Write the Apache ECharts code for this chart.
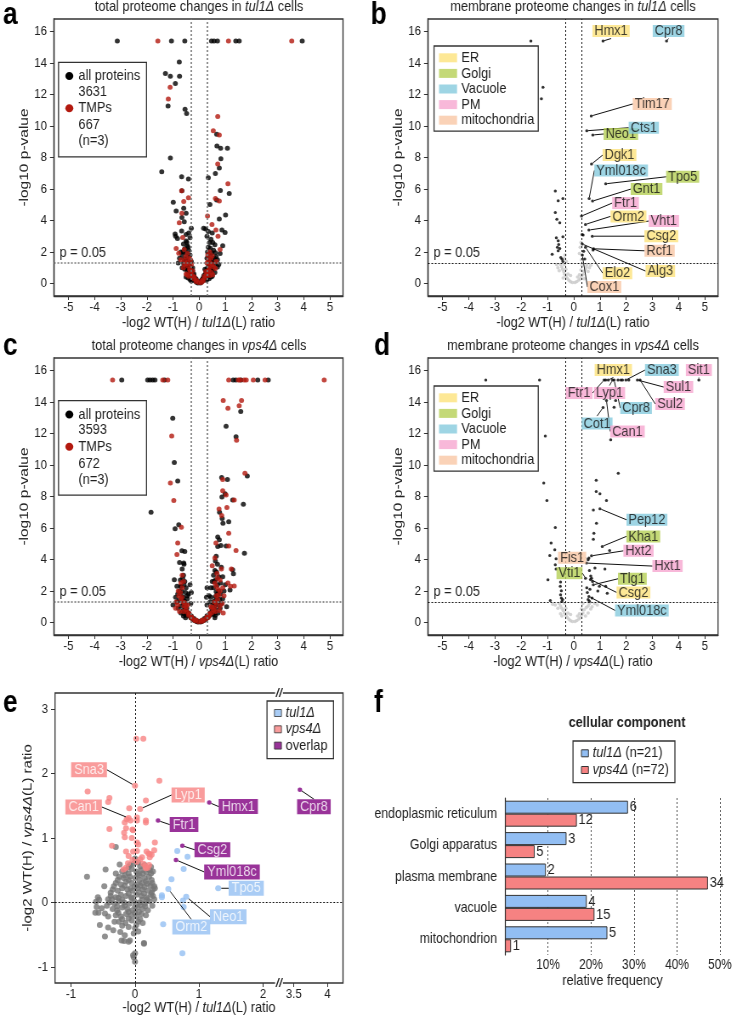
<!DOCTYPE html>
<html>
<head>
<meta charset="utf-8">
<title>tul1 / vps4 proteome changes</title>
<script src="https://cdn.jsdelivr.net/npm/echarts@6/dist/echarts.min.js"></script>
<style>
  html, body { margin: 0; padding: 0; background: #fff; overflow: hidden; }
  /* the figure is drawn wider and squeezed horizontally, like the narrow-looking original */
  #chart { width: 862px; height: 1016px; transform: scaleX(0.85); transform-origin: 0 0; }
</style>
</head>
<body>
<div id="chart"></div>
<script>
// ---- tick labels / categories ----
const volcXTicks = [-5, -4, -3, -2, -1, 0, 1, 2, 3, 4, 5];
const volcYTicks = [0, 2, 4, 6, 8, 10, 12, 14, 16];
const eXTicksLeft = [-1, 0, 1, 2];
const eXTicksRight = [3.5, 4];
const eYTicks = [-1, 0, 1, 2, 3];
const compartments = ['ER', 'Golgi', 'Vacuole', 'PM', 'mitochondria'];
const fCategories = ['endoplasmic reticulum', 'Golgi apparatus', 'plasma membrane', 'vacuole', 'mitochondrion'];

// ---- a: total proteome, tul1 ----
const tul1TotalAll = [
  [-3.13,15.4],[-1.06,15.4],[-0.55,15.4],[0.47,15.4],[0.57,15.4],[0.7,15.4],[1.4,15.4],[1.53,15.4],[3.94,15.4],
  [-0.76,14.07],[-1.29,13.33],[-1.1,13.16],[-0.75,13.16],[-0.91,12.7],[-1.19,11.27],[-0.54,11.06],[-0.48,10.8],
  [-1.1,7.97],[-1.43,7.1],[-0.67,6.78],[-0.41,6.63],[-0.66,5.89],[-0.99,5.15],[-0.59,4.77],[-0.88,4.6],[-0.5,4.45],
  [-0.66,4.19],[-0.57,3.92],[-0.92,3.14],[-0.67,3.33],[-0.83,2.86],
  [0.35,6.72],[0.67,9.47],[0.68,8.73],[0.82,8.58],[1.08,8.58],[0.83,7.92],[0.77,7.33],[0.62,6.99],[1.15,5.72],
  [0.81,5.91],[0.67,5.3],[0.41,5.02],[1.01,4.34],[0.77,4.09],[0.87,3.39],[0.99,3.24],[0.17,3.5],
  [-0.05,0.02],[0.05,0.03],[-0.1,0.08],[0.1,0.1],[-0.15,0.15],[0.15,0.2],[-0.2,0.25],[0.2,0.3],[-0.22,0.4],[0.25,0.45],
  [-0.28,0.55],[0.28,0.6],[-0.3,0.7],[0.3,0.75],[-0.33,0.85],[0.35,0.9],[-0.38,1.0],[0.38,1.05],[-0.4,1.15],[0.42,1.2],
  [-0.45,1.3],[0.45,1.35],[-0.5,1.5],[0.5,1.5],[-0.35,0.5],[0.4,0.55],[-0.45,0.75],[0.48,0.8],[-0.55,1.1],[0.55,1.0],
  [-0.6,1.3],[0.6,1.25],[-0.25,1.0],[0.22,0.9],[-0.3,1.4],[0.3,1.6],[-0.35,1.8],[0.32,2.0],[-0.4,2.1],[0.35,2.3],
  [-0.45,2.4],[0.4,2.6],[-0.5,2.7],[0.45,2.8],[-0.55,2.2],[0.55,2.1],[-0.65,1.8],[0.65,1.7],[-0.7,2.0],[0.7,1.5],
  [-0.75,1.6],[0.8,1.9],[-0.6,2.5],[0.6,2.45],[-0.35,2.9],[0.3,3.0],[-0.4,3.2],[0.35,3.3],[-0.3,3.5],[0.25,3.45],
  [-0.5,3.1],[0.5,3.2],[-0.2,0.6],[0.18,0.5],[-0.12,0.3],[0.12,0.25],[-0.65,1.0],[0.7,1.05],[-0.8,1.3],[0.75,1.2],
  [-0.9,3.0],[0.9,2.4],[-0.55,0.9],[0.6,0.7],[-0.42,0.35],[0.45,0.4],[0.38,0.3],[-0.35,0.25],
  [-0.08,0.15],[0.08,0.18],[-0.18,0.35],[0.16,0.38],[-0.26,0.65],[0.24,0.62],[-0.32,0.95],[0.3,0.95],[-0.36,1.1],
  [0.36,1.15],[-0.42,1.4],[0.4,1.45],[-0.46,1.7],[0.44,1.75],[-0.5,1.95],[0.48,1.95],[-0.28,0.3],[0.3,0.35],
  [-0.36,0.45],[0.35,0.5],[-0.4,0.65],[0.44,0.65],[-0.48,0.95],[0.5,0.9],[-0.52,1.2],[0.52,1.3],[-0.58,1.55],
  [0.58,1.6],[-0.62,2.0],[0.62,1.95],[-0.2,0.45],[0.2,0.4],[-0.15,0.25],[0.14,0.28],[-0.25,0.8],[0.27,0.8],
  [-0.38,1.3],[0.37,1.35],[-0.43,2.3],[0.42,2.25],[-0.47,2.6],[0.52,2.6],[-0.3,0.15],[0.28,0.2],[-0.5,0.4],[0.5,0.45]
];
const tul1TotalTmp = [
  [-1.58,15.4],[1.12,15.4],[3.54,15.4],
  [-1.11,12.46],[-1.18,11.72],[-0.67,5.89],[-0.41,5.44],[-0.59,5.21],[-0.66,4.45],[-0.76,3.86],[-0.63,2.92],
  [-0.88,2.22],[-0.57,2.16],[-0.78,1.91],
  [0.71,10.6],[0.54,9.7],[0.77,9.43],[0.71,7.58],[1.1,6.33],[0.62,5.4],[0.77,5.23],[0.32,4.28],[0.49,3.75],
  [0.64,3.39],[0.72,3.0],[0.8,2.16],
  [-0.02,0.05],[0.08,0.06],[-0.12,0.12],[0.15,0.15],[-0.2,0.3],[0.22,0.35],[-0.28,0.45],[0.3,0.5],[-0.32,0.65],
  [0.33,0.7],[-0.36,0.9],[0.38,0.95],[-0.42,1.1],[0.4,1.1],[-0.5,1.25],[0.5,1.2],[-0.55,1.45],[0.45,1.6],[-0.6,1.0],
  [0.62,0.95],[-0.38,1.6],[0.33,1.8],[-0.45,1.9],[0.4,2.0],[-0.7,1.5],[0.65,1.4],[-0.25,0.8],[0.25,0.75],[-0.5,0.6],
  [0.52,0.55],[-0.4,0.45],[0.42,0.5],[-0.3,1.2],[0.3,1.3],
  [-0.1,0.2],[0.12,0.22],[-0.25,0.5],[0.28,0.55],[-0.35,0.8],[0.36,0.8],[-0.44,1.35],[0.43,1.3],[-0.52,1.7],
  [0.5,1.75],[-0.18,0.4],[0.2,0.45],[-0.46,0.55],[0.47,0.7],[-0.56,1.2],[0.56,1.05],[-0.33,1.5],[0.35,1.5]
];

// ---- c: total proteome, vps4 ----
const vps4TotalAll = [
  [-2.96,15.4],[-1.97,15.4],[-1.88,15.4],[-1.78,15.4],[-1.69,15.4],[-1.32,15.4],
  [1.3,15.4],[1.4,15.4],[1.6,15.4],[2.24,15.4],[2.64,15.4],
  [-1.01,12.97],[-0.95,10.16],[-0.82,8.98],[-1.84,7.0],[-0.78,6.2],[-0.92,5.95],[-0.66,4.55],[-0.59,3.77],[-0.95,2.71],
  [1.59,13.4],[1.03,12.47],[1.41,11.8],[1.84,9.3],[0.86,9.2],[1.08,9.08],[0.99,8.18],[0.87,7.97],[1.28,7.77],
  [1.69,7.5],[0.78,7.0],[0.88,6.6],[1.13,6.4],[0.91,6.3],[0.71,5.42],[0.77,5.25],[0.83,4.88],[0.71,4.82],[1.03,4.86],
  [1.73,4.4],[1.28,3.34],[1.31,3.09],[1.18,2.06],
  [-0.05,0.02],[0.05,0.02],[-0.1,0.06],[0.1,0.06],[-0.18,0.12],[0.18,0.12],[-0.25,0.2],[0.25,0.2],[-0.32,0.3],[0.32,0.3],
  [-0.38,0.42],[0.38,0.4],[-0.42,0.55],[0.45,0.55],[-0.48,0.7],[0.5,0.7],[-0.52,0.85],[0.55,0.85],[-0.55,1.0],[0.58,1.0],
  [-0.6,1.2],[0.6,1.2],[-0.62,1.4],[0.65,1.4],[-0.65,1.6],[0.68,1.6],[-0.7,1.8],[0.7,1.8],[-0.75,2.0],[0.75,2.0],
  [-0.45,1.5],[0.42,1.3],[-0.4,1.8],[0.38,1.7],[-0.5,2.2],[0.45,2.2],[-0.55,2.6],[0.5,2.6],[-0.6,3.0],[0.55,3.0],
  [-0.65,3.4],[0.6,3.3],[-0.8,0.9],[0.8,0.9],[-0.85,1.3],[0.85,1.2],[-0.9,1.6],[0.9,1.5],[-0.7,0.6],[0.72,0.6],
  [-0.6,0.4],[0.62,0.45],[-0.85,2.3],[0.82,2.5],[-0.72,2.7],[0.75,2.9],[-0.35,2.4],[0.3,2.2],[-0.3,1.9],[0.28,1.6],
  [-0.32,1.2],[0.3,1.1],[0.95,2.0],[1.0,2.4],[-1.0,1.1],[1.05,1.0],[0.7,3.7],[0.65,4.2],[-0.75,3.8],[-0.7,2.3],
  [0.6,0.3],[-0.52,0.3],[0.85,3.5],[0.9,2.9],[-0.58,3.7],[-0.55,4.5],[0.62,3.9],[0.57,2.6],
  [-0.08,0.1],[0.08,0.1],[-0.2,0.25],[0.2,0.25],[-0.3,0.4],[0.3,0.42],[-0.4,0.6],[0.42,0.62],[-0.47,0.9],[0.48,0.9],
  [-0.52,1.15],[0.52,1.1],[-0.56,1.35],[0.57,1.35],[-0.6,1.6],[0.62,1.65],[-0.66,2.0],[0.65,1.95],[-0.7,2.3],[0.7,2.4],
  [-0.5,0.45],[0.52,0.5],[-0.62,0.75],[0.63,0.8],[-0.7,1.05],[0.72,1.1],[-0.78,1.4],[0.78,1.45],[-0.82,1.8],[0.82,1.8],
  [-0.58,0.55],[0.58,0.6],[-0.45,1.7],[0.45,1.6],[-0.52,1.9],[0.55,2.2],[-0.58,2.4],[0.62,2.7],[-0.63,2.8],[0.66,3.2]
];
const vps4TotalTmp = [
  [-3.31,15.4],[-1.39,15.4],[-1.2,15.4],
  [1.13,15.4],[1.5,15.4],[1.56,15.4],[1.72,15.4],[1.8,15.4],[2.07,15.4],[2.52,15.4],[4.78,15.4],
  [-1.05,11.85],[-1.1,8.85],[-0.97,7.75],[-0.68,6.05],[-0.82,5.04],[-0.85,4.32],
  [1.62,14.1],[0.92,14.1],[1.1,13.6],[1.53,13.76],[1.43,11.57],[1.75,9.48],[0.9,9.08],[0.9,8.37],[1.03,8.1],
  [1.34,7.77],[0.76,7.2],[1.06,7.3],[0.86,6.8],[1.13,5.67],[0.64,5.04],[1.13,4.86],[1.41,4.57],[1.23,3.4],[1.34,2.32],
  [-0.03,0.04],[0.08,0.05],[-0.15,0.1],[0.15,0.1],[-0.22,0.18],[0.25,0.22],[-0.3,0.3],[0.35,0.33],[-0.4,0.45],[0.4,0.48],
  [-0.45,0.65],[0.48,0.62],[-0.5,0.8],[0.55,0.78],[-0.58,1.05],[0.6,1.0],[-0.62,1.3],[0.65,1.25],[-0.7,1.5],[0.7,1.45],
  [-0.78,1.7],[0.75,1.75],[-0.8,2.0],[0.8,2.0],[-0.65,2.2],[0.65,2.3],[-0.7,2.5],[0.6,2.5],[-0.75,0.7],[0.78,0.75],
  [-0.9,0.9],[0.92,0.6],[-0.88,1.3],[0.88,1.2],[0.8,2.7],[0.7,2.8],[-0.45,1.1],[0.45,1.0],[0.95,1.7],[-0.6,2.6],
  [0.85,3.4],[0.6,4.1],[0.68,3.1],[-0.65,3.0],[0.5,3.6],[1.1,2.5],[1.2,2.3],[0.9,2.2],
  [-0.12,0.15],[0.12,0.15],[-0.28,0.35],[0.3,0.36],[-0.38,0.55],[0.4,0.55],[-0.5,1.0],[0.5,0.95],[-0.55,1.25],
  [0.58,1.3],[-0.66,1.6],[0.66,1.7],[-0.72,1.9],[0.72,2.1],[-0.6,0.7],[0.62,0.7],[-0.82,1.1],[0.8,1.05]
];

// ---- b: membrane proteome, tul1 ----
const tul1MemSig = [
  [-1.63,15.4],[-1.17,12.46],[-1.23,11.74],[-0.7,5.87],[-0.59,5.25],[-0.41,5.4],[-0.7,4.51],[-0.64,4.07],[-0.53,3.86],
  [-0.41,2.97],[-0.66,2.9],[-0.59,2.71],[-0.57,2.48],[-0.62,2.29],[-0.53,2.22],[-0.59,2.08],[-0.82,1.86],[-0.49,1.65],
  [-0.44,1.53],[-0.41,1.4],[0.32,3.1],[0.38,2.05],[0.42,1.55],[0.74,2.12],[0.36,3.07]
];
const tul1MemOther = [
  [-0.05,0.05],[0.05,0.05],[-0.12,0.1],[0.12,0.12],[-0.18,0.2],[0.2,0.22],[-0.25,0.32],[0.25,0.3],[-0.3,0.45],[0.3,0.45],
  [-0.35,0.6],[0.35,0.58],[-0.38,0.75],[0.4,0.75],[-0.42,0.9],[0.45,0.9],[-0.45,1.05],[0.48,1.05],[-0.5,1.2],[0.5,1.2],
  [-0.3,0.9],[0.28,0.85],[-0.35,1.2],[0.32,1.15],[-0.55,0.8],[0.55,0.75],[-0.6,1.0],[0.6,1.0],[-0.22,0.6],[0.22,0.55],
  [-0.4,0.35],[0.4,0.3],[0.28,2.6],[0.25,2.3],[0.3,1.5],[-0.33,1.8],[-0.36,1.6],[0.22,1.9],[-0.28,1.4],[0.15,0.4],
  [-0.12,0.5],[0.65,1.15],[-0.65,1.2]
];
const tul1MemNamed = [
  ['Hmx1',1.12,15.4,'ER'],['Cpr8',3.54,15.4,'Vacuole'],['Tim17',0.67,10.64,'mitochondria'],['Cts1',0.5,9.7,'Vacuole'],
  ['Neo1',0.73,9.43,'Golgi'],['Dgk1',0.68,7.58,'ER'],['Yml018c',0.59,5.4,'Vacuole'],['Tpo5',1.22,6.33,'Golgi'],
  ['Gnt1',0.72,5.23,'Golgi'],['Ftr1',0.3,4.28,'PM'],['Orm2',0.45,3.75,'ER'],['Vht1',0.58,3.39,'PM'],
  ['Csg2',0.71,3.0,'ER'],['Rcf1',0.76,2.2,'mitochondria'],['Alg3',0.33,2.5,'ER'],['Elo2',0.45,2.3,'ER'],
  ['Cox1',0.33,1.8,'mitochondria']
];

// ---- d: membrane proteome, vps4 ----
const vps4MemSig = [
  [-3.35,15.4],[-1.3,15.4],[-1.08,11.85],[-1.14,8.85],[-1.02,7.75],[-0.7,6.03],[-0.86,5.04],[-0.91,4.25],[-0.72,4.61],
  [-0.67,4.04],[-0.98,2.71],[-0.7,3.66],[-0.67,3.39],[-0.5,2.56],[-0.51,2.29],[-0.47,2.01],[-0.5,1.76],[-0.47,1.55],
  [-0.45,1.33],[-0.89,1.4],[-0.42,1.45],
  [1.22,15.4],[1.69,15.4],[1.8,15.4],[1.86,15.4],[2.1,15.4],[1.6,14.1],[1.54,13.67],[1.41,11.6],[1.7,9.48],[0.86,9.04],
  [0.86,8.32],[1.0,8.17],[1.25,7.75],[0.75,7.15],[0.87,6.3],[0.77,5.67],[0.75,5.29],[1.37,4.57],[0.81,3.45],[1.19,3.39],
  [0.58,4.1],[0.6,3.3],[0.65,2.95],[0.68,2.8],[0.72,2.6],[1.22,2.29],[1.28,1.86],[0.92,2.0],[0.98,2.3],[0.55,1.45],
  [0.52,1.9],[0.62,2.1],[0.6,1.35],[0.5,2.2],[0.7,1.55]
];
const vps4MemOther = [
  [-0.05,0.05],[0.05,0.05],[-0.12,0.1],[0.12,0.12],[-0.18,0.2],[0.2,0.22],[-0.25,0.32],[0.25,0.3],[-0.3,0.45],[0.3,0.45],
  [-0.35,0.6],[0.35,0.6],[-0.4,0.75],[0.4,0.8],[-0.45,0.9],[0.48,0.95],[-0.5,1.05],[0.55,1.05],[-0.55,1.2],[0.6,1.2],
  [-0.6,0.9],[0.65,0.85],[-0.7,1.1],[0.7,1.0],[-0.3,0.9],[0.3,0.85],[-0.35,1.2],[0.35,1.2],[-0.8,1.15],[0.8,1.2],
  [-0.22,0.6],[0.22,0.55],[-0.45,0.4],[0.45,0.4],[0.15,0.4],[-0.12,0.5],[0.9,1.1],[-0.5,0.55],[0.55,0.6]
];
const vps4MemNamed = [
  ['Hmx1',1.32,15.4,'ER'],['Ftr1',1.16,15.4,'PM'],['Lyp1',1.48,15.4,'PM'],['Cpr8',1.54,15.4,'Vacuole'],
  ['Sna3',1.99,15.4,'Vacuole'],['Sul1',2.43,15.4,'PM'],['Sul2',2.53,15.4,'PM'],['Sit1',4.77,15.4,'PM'],
  ['Cot1',1.12,13.65,'Vacuole'],['Can1',1.25,14.1,'PM'],['Pep12',1.0,7.22,'Vacuole'],['Kha1',1.09,4.83,'Golgi'],
  ['Hxt2',0.68,4.23,'PM'],['Hxt1',0.49,3.77,'PM'],['Fis1',0.55,3.98,'mitochondria'],['Vti1',0.45,2.81,'Golgi'],
  ['Tlg1',0.75,2.39,'Golgi'],['Csg2',0.64,2.73,'ER'],['Yml018c',0.58,1.65,'Vacuole']
];

// ---- e: tul1 ratio vs vps4 ratio ----
const eOther = [
  [-0.15,0.5],[-0.05,0.52],[0.02,0.48],[0.1,0.5],[0.18,0.47],[-0.1,0.45],
  [-0.25,0.4],[-0.18,0.38],[-0.08,0.4],[0.0,0.38],[0.07,0.42],[0.15,0.38],[0.22,0.4],[0.25,0.45],
  [-0.3,0.3],[-0.22,0.28],[-0.14,0.32],[-0.05,0.3],[0.03,0.28],[0.11,0.3],[0.19,0.29],[0.27,0.3],
  [-0.35,0.2],[-0.27,0.18],[-0.2,0.22],[-0.12,0.2],[-0.04,0.18],[0.04,0.22],[0.12,0.2],[0.2,0.18],[0.28,0.2],[0.3,0.25],
  [-0.38,0.1],[-0.3,0.08],[-0.22,0.12],[-0.14,0.1],[-0.06,0.08],[0.02,0.12],[0.1,0.1],[0.18,0.08],[0.25,0.12],
  [-0.4,0.0],[-0.32,-0.02],[-0.25,0.02],[-0.17,0.0],[-0.09,-0.02],[-0.01,0.02],[0.07,0.0],[0.15,-0.02],[0.22,0.02],
  [-0.35,-0.1],[-0.28,-0.12],[-0.2,-0.08],[-0.12,-0.1],[-0.04,-0.12],[0.04,-0.08],[0.12,-0.1],[0.2,-0.12],
  [-0.3,-0.2],[-0.22,-0.22],[-0.14,-0.18],[-0.06,-0.2],[0.02,-0.22],[0.1,-0.18],[0.17,-0.2],
  [-0.25,-0.3],[-0.15,-0.32],[-0.05,-0.28],[0.05,-0.3],[0.12,-0.32],
  [-0.02,0.6],[0.05,0.62],[-0.08,0.58],[0.0,0.68],[0.15,0.58],[0.25,0.55],[0.28,0.48],[-0.3,0.45],
  [-0.75,0.4],[-0.46,0.51],[-0.3,0.86],[-0.24,0.59],[-0.48,0.25],[-0.58,0.08],[-0.56,0.04],[-0.61,0.01],[-0.6,-0.07],
  [-0.52,-0.09],[-0.57,-0.16],[-0.62,-0.16],[-0.47,-0.17],[-0.42,-0.22],[-0.55,-0.35],[-0.42,-0.39],[-0.34,-0.43],
  [-0.47,-0.53],[-0.23,-0.46],[-0.16,-0.51],[-0.08,-0.59],[-0.21,-0.59],[-0.17,-0.6],[-0.02,-0.48],[0.14,-0.63],
  [0.0,-0.79],[-0.02,-0.85],[-0.03,-0.82],[0.0,-0.92],[0.31,0.22],[0.26,0.35],[0.23,0.5],[0.26,0.15],[0.28,0.1],
  [-0.1,-0.61],[0.14,-0.64],[0.0,-0.4],[0.05,-0.45],
  [-0.1,0.55],[0.08,0.56],[-0.2,0.48],[0.2,0.52],[-0.16,0.42],[0.04,0.44],[0.12,0.45],[-0.27,0.35],[-0.1,0.35],
  [0.07,0.35],[0.17,0.33],[-0.33,0.25],[-0.16,0.26],[0.0,0.25],[0.08,0.26],[0.24,0.26],[-0.26,0.07],[-0.1,0.14],
  [0.06,0.16],[0.14,0.14],[-0.36,0.05],[-0.2,0.04],[-0.05,0.06],[0.11,0.04],[0.19,0.05],[-0.28,-0.06],[-0.16,-0.05],
  [0.0,-0.06],[0.08,-0.04],[0.16,-0.06],[-0.26,-0.16],[-0.1,-0.15],[0.06,-0.15],[-0.2,-0.26],[-0.1,-0.25],[0.0,-0.16],
  [0.08,-0.26],[-0.32,-0.3],[-0.2,-0.36],[-0.1,-0.38],[0.02,-0.35],[-0.38,0.15],[-0.42,0.05],[-0.44,-0.05],[0.3,0.05],
  [0.27,-0.05],[-0.07,0.22],[0.15,0.24]
];
const eVps4Only = [
  [0.02,2.54],[0.13,2.54],[0.38,1.89],[-0.74,1.72],[-0.4,1.62],[-0.42,1.56],[0.17,1.58],[-0.09,1.46],[-0.13,1.29],
  [-0.07,1.27],[0.03,1.32],[0.03,1.27],[0.17,1.27],[0.17,1.24],[-0.16,1.24],[-0.4,1.14],[-0.14,1.15],[-0.04,1.13],
  [-0.17,1.08],[-0.03,1.12],[-0.16,1.01],[-0.05,1.0],[-0.36,0.88],[0.03,0.93],[0.05,0.9],[0.31,0.93],[-0.03,0.79],
  [0.03,0.8],[-0.14,0.79],[-0.1,0.72],[0.18,0.79],[0.23,0.75],[0.21,0.76],[0.26,0.74],[0.3,0.81],[0.23,0.7],
  [0.11,0.7],[0.08,0.67],[0.03,0.63],[-0.04,0.66],[-0.11,0.61],[-0.14,0.54],[-0.18,0.51],[0.16,0.56],[0.2,0.54],
  [0.17,0.53],[0.13,0.6],[0.22,0.58]
];
const eTul1Only = [
  [0.66,0.8],[0.82,0.71],[0.76,0.52],[0.57,0.36],[0.42,0.11],[0.42,0.08],[0.75,0.03],[0.76,-0.07],[0.44,-0.34],[0.74,-0.79]
];
const eVps4Named = [['Sna3',0.0,1.81],['Can1',-0.1,1.31],['Lyp1',0.08,1.45]];
const eTul1Named = [['Tpo5',1.3,0.22],['Neo1',0.8,0.09],['Orm2',0.52,0.21]];
const eOverlapNamed = [['Hmx1',1.16,1.55],['Ftr1',0.36,1.27],['Csg2',0.74,0.88],['Yml018c',0.64,0.66]];
const eOverlapFar = [['Cpr8',3.59,1.75]];

// ---- f: cellular component ----
const fTul1Pct = [28.6, 14.3, 9.5, 19.0, 23.8];
const fVps4Pct = [16.7, 6.9, 47.2, 20.8, 1.4];
const fTul1Count = [6, 3, 2, 4, 5];
const fVps4Count = [12, 5, 34, 15, 1];

// ---- styling ----
const SX = 0.85;                 // horizontal squeeze applied by CSS
const X = v => v / SX;           // page px -> chart px (horizontal only)
const FONT = '"Liberation Sans", Arial, sans-serif';
const FS = 15;
const TICK = 13.5;
const INK = '#222';
const DOTS = [2, 2];
const compColors = { ER: '#fde27c', Golgi: '#b5d055', Vacuole: '#86cbdd', PM: '#f6a6cf', mitochondria: '#f9c7a5' };
const RED = '#b3190f';
const SALMON = '#f78383';
const LBLUE = '#93bff3';
const PURPLE = '#800080';
const dot = d => [X(d), d];      // round dots after squeeze

// label offsets (page px) from point to label centre
const offB = {
  Hmx1:[8,-10], Cpr8:[2,-10], Tim17:[61,-12], Cts1:[57,-3], Neo1:[28,-1], Dgk1:[28,-9], Yml018c:[32,-28],
  Tpo5:[77,-7], Gnt1:[54,-12], Ftr1:[44,-13], Orm2:[43,-8], Vht1:[75,-9], Csg2:[69,0], Rcf1:[66,2],
  Alg3:[78,27], Elo2:[32,26], Cox1:[22,32]
};
const offD = {
  Hmx1:[5,-10], Ftr1:[-25,13], Lyp1:[-3,13], Cpr8:[22,28], Sna3:[36,-10], Sul1:[41,7], Sul2:[30,24], Sit1:[0,-10],
  Cot1:[-6,16], Can1:[21,31], Pep12:[47,11], Kha1:[41,-10], Hxt2:[47,-5], Hxt1:[81,3], Fis1:[-16,-2],
  Vti1:[-16,-5], Tlg1:[39,-6], Csg2:[43,13], Yml018c:[53,14]
};
const offE = {
  Sna3:[-46,-16], Can1:[-45,-11], Lyp1:[48,-14], Hmx1:[29,4], Ftr1:[26,4], Csg2:[30,4], Yml018c:[56,12],
  Tpo5:[28,0], Neo1:[42,20], Orm2:[23,38], Cpr8:[14,17]
};

const grids = [
  { left: X(54), top: 19, width: X(289), height: 277 },
  { left: X(428), top: 19, width: X(290), height: 277 },
  { left: X(54), top: 358, width: X(289), height: 277 },
  { left: X(428), top: 358, width: X(290), height: 277 },
  { left: X(55), top: 693, width: X(224), height: 290 },
  { left: X(279), top: 693, width: X(64), height: 290 },
  { left: X(505), top: 798, width: X(215), height: 157 }
];

const italic = { i: { fontStyle: 'italic', fontSize: FS, fontFamily: FONT, color: INK } };

function tickLabel (values) {
  return { customValues: values, fontSize: TICK, color: INK, fontFamily: FONT };
}

function volcX (gi, strain) {
  return {
    type: 'value', gridIndex: gi, min: -5.55, max: 5.5,
    name: '-log2 WT(H) / {i|' + strain + '}(L) ratio', nameLocation: 'middle', nameGap: 15,
    nameTextStyle: { fontSize: FS, color: INK, fontFamily: FONT, rich: italic },
    axisLine: { show: true, onZero: false, lineStyle: { color: '#333', width: 1.3 } },
    axisTick: { show: true, length: 4, customValues: volcXTicks, lineStyle: { color: '#333' } },
    axisLabel: Object.assign(tickLabel(volcXTicks), { margin: 4 }),
    splitLine: { show: false }
  };
}

function volcY (gi) {
  return {
    type: 'value', gridIndex: gi, min: -0.8, max: 16.8,
    name: '-log10 p-value', nameLocation: 'middle', nameGap: 20,
    nameTextStyle: { fontSize: FS + 0.5, color: INK, fontFamily: FONT },
    axisLine: { show: true, onZero: false, lineStyle: { color: '#333', width: 1.3 } },
    axisTick: { show: true, length: X(4), customValues: volcYTicks, lineStyle: { color: '#333' } },
    axisLabel: Object.assign(tickLabel(volcYTicks), { margin: X(7) }),
    splitLine: { show: false }
  };
}

function dots (gi, name, data, color, size, z) {
  return { type: 'scatter', name, xAxisIndex: gi, yAxisIndex: gi, data, symbolSize: dot(size),
    itemStyle: { color }, silent: true, z: z || 2 };
}

function thresholds (color, width) {
  return {
    silent: true, symbol: ['none', 'none'], animation: false,
    lineStyle: { color, width, type: DOTS },
    label: { show: false },
    data: [
      { xAxis: -0.3 }, { xAxis: 0.3 },
      { yAxis: 1.301, label: { show: true, position: 'insideStartTop', formatter: 'p = 0.05', distance: 3,
        padding: [0, 0, 0, X(3)], fontSize: FS, color: INK, fontFamily: FONT } }
    ]
  };
}

function named (gi, name, pts, offsets, color, size, label) {
  return {
    type: 'scatter', name, xAxisIndex: gi, yAxisIndex: gi, symbolSize: dot(size),
    itemStyle: { color }, silent: true, z: 6,
    data: pts.map(p => ({ name: p[0], value: [p[1], p[2]] })),
    label: Object.assign({ show: true, position: 'inside', formatter: '{b}', fontSize: FS,
      fontFamily: FONT, lineHeight: 12 }, label),
    labelLine: { show: true, lineStyle: { color: '#111', width: 1 } },
    labelLayout: params => {
      const o = offsets[pts[params.dataIndex][0]];
      return { dx: X(o[0]), dy: o[1] };
    }
  };
}

function compartmentSeries (gi, list, offsets) {
  return compartments.map(c => named(gi, c, list.filter(p => p[3] === c), offsets, '#000', 3,
    { color: '#111', backgroundColor: compColors[c], padding: [0, X(2)] }));
}

function countLegend (top, total, tmps) {
  const t = (text, y) => ({ type: 'text', x: X(78.5), y: top + y, z: 11,
    style: { text, fontSize: FS, fontFamily: FONT, fill: INK, verticalAlign: 'middle', textVerticalAlign: 'middle' } });
  return [
    { type: 'rect', shape: { x: X(58.5), y: top, width: X(88), height: 94.5 },
      style: { fill: '#fff', stroke: '#333', lineWidth: 1.3 }, z: 10 },
    { type: 'ellipse', shape: { cx: X(69.3), cy: top + 13.7, rx: X(4), ry: 4 }, style: { fill: '#000' }, z: 11 },
    { type: 'ellipse', shape: { cx: X(69.3), cy: top + 46, rx: X(4), ry: 4 }, style: { fill: RED }, z: 11 },
    t('all proteins', 13.7), t(String(total), 29.5), t('TMPs', 46), t(String(tmps), 63), t('(n=3)', 79)
  ];
}

function headText (text, x, y, extra) {
  return { type: 'text', x: X(x), y, z: 20,
    style: Object.assign({ text, fontSize: FS, fontFamily: FONT, fill: INK,
      align: 'center', textAlign: 'center', verticalAlign: 'middle', textVerticalAlign: 'middle',
      rich: { i: { fontStyle: 'italic', fontSize: FS, fontFamily: FONT, fill: INK } } }, extra || {}) };
}

function letter (ch, x, y) {
  return { type: 'text', x: X(x), y, z: 20,
    style: { text: ch, fontSize: 31, fontWeight: 'bold', fontFamily: FONT, fill: '#000',
      verticalAlign: 'middle', textVerticalAlign: 'middle' } };
}

const compLegend = top => ({
  data: compartments.map(c => ({ name: c, itemStyle: { color: compColors[c] } })),
  left: X(434), top, orient: 'vertical', icon: 'rect', itemWidth: X(18), itemHeight: 9, itemGap: 0.6,
  padding: [4.3, X(4), 3.4, X(5)], borderColor: '#333', borderWidth: 1.3, backgroundColor: '#fff',
  selectedMode: false, textStyle: { fontSize: FS, color: INK, fontFamily: FONT, lineHeight: 14 }
});

const eLine = { silent: true, symbol: ['none', 'none'], animation: false, label: { show: false },
  lineStyle: { color: '#111', width: 1, type: DOTS } };

const option = {
  animation: false,
  backgroundColor: '#fff',
  grid: grids.map((g, i) => Object.assign({
    show: i < 4, borderColor: '#333', borderWidth: 1.3, backgroundColor: 'transparent',
    containLabel: false, outerBoundsMode: 'none'
  }, g)),
  xAxis: [
    volcX(0, 'tul1Δ'), volcX(1, 'tul1Δ'), volcX(2, 'vps4Δ'), volcX(3, 'vps4Δ'),
    { type: 'value', gridIndex: 4, min: -1.25, max: 2.25,
      axisLine: { show: false, onZero: false }, splitLine: { show: false },
      axisTick: { show: true, length: 4, customValues: eXTicksLeft, lineStyle: { color: '#333' } },
      axisLabel: Object.assign(tickLabel(eXTicksLeft), { margin: 4 }) },
    { type: 'value', gridIndex: 5, min: 3.28, max: 4.23,
      axisLine: { show: false, onZero: false }, splitLine: { show: false },
      axisTick: { show: true, length: 4, customValues: eXTicksRight, lineStyle: { color: '#333' } },
      axisLabel: Object.assign(tickLabel(eXTicksRight), { margin: 4 }) },
    { type: 'value', gridIndex: 6, min: 0, max: 50, interval: 10,
      name: 'relative frequency', nameLocation: 'middle', nameGap: 16,
      nameTextStyle: { fontSize: FS, color: INK, fontFamily: FONT },
      axisLine: { show: false }, axisTick: { show: false },
      axisLabel: { fontSize: TICK + 0.5, color: INK, fontFamily: FONT, margin: 3,
        formatter: v => (v === 0 ? '' : v + '%') },
      splitLine: { show: true, lineStyle: { color: '#555', type: DOTS, width: 1 } } }
  ],
  yAxis: [
    volcY(0), volcY(1), volcY(2), volcY(3),
    { type: 'value', gridIndex: 4, min: -1.25, max: 3.25,
      name: '-log2 WT(H) / {i|vps4Δ}(L) ratio', nameLocation: 'middle', nameGap: 19,
      nameTextStyle: { fontSize: FS, color: INK, fontFamily: FONT, rich: italic },
      axisLine: { show: false, onZero: false }, splitLine: { show: false },
      axisTick: { show: true, length: X(4), customValues: eYTicks, lineStyle: { color: '#333' } },
      axisLabel: Object.assign(tickLabel(eYTicks), { margin: X(7) }) },
    { type: 'value', gridIndex: 5, min: -1.25, max: 3.25, show: false },
    { type: 'category', gridIndex: 6, data: fCategories, inverse: true,
      axisLine: { show: true, lineStyle: { color: '#222', width: 1.2 } }, axisTick: { show: false },
      axisLabel: { fontSize: FS - 0.5, color: INK, fontFamily: FONT, margin: X(8) } }
  ],
  legend: [
    compLegend(46),
    compLegend(386),
    {
      data: ['tul1Δ', 'vps4Δ', 'overlap'], left: X(267), top: 701, orient: 'vertical',
      icon: 'rect', itemWidth: X(7), itemHeight: 7, itemGap: 1.3, padding: [4.5, X(6), 5.5, X(7)],
      itemStyle: { borderColor: '#333', borderWidth: 1 },
      borderColor: '#333', borderWidth: 1.3, backgroundColor: '#fff', selectedMode: false,
      formatter: n => (n === 'overlap' ? n : '{i|' + n + '}'),
      textStyle: { fontSize: FS, color: INK, fontFamily: FONT, lineHeight: 15, rich: italic }
    },
    {
      data: ['tul1Δ (n=21)', 'vps4Δ (n=72)'], left: X(573), top: 741, orient: 'vertical',
      icon: 'rect', itemWidth: X(7), itemHeight: 7, itemGap: 1.7, padding: [4.8, X(6), 5.2, X(8)],
      itemStyle: { borderColor: '#333', borderWidth: 1 },
      borderColor: '#333', borderWidth: 1.3, backgroundColor: '#fff', selectedMode: false,
      formatter: n => n.replace(/^(\S+)/, '{i|$1}'),
      textStyle: { fontSize: FS, color: INK, fontFamily: FONT, lineHeight: 15, rich: italic }
    }
  ],
  series: [
    // a
    Object.assign(dots(0, 'all a', tul1TotalAll, '#000', 5), { markLine: thresholds('#777', 1.6) }),
    dots(0, 'tmp a', tul1TotalTmp, RED, 5, 3),
    // b
    Object.assign(dots(1, 'ns b', tul1MemOther, '#c9c9c9', 3.5), { markLine: thresholds('#111', 1) }),
    dots(1, 'sig b', tul1MemSig, '#000', 3, 3),
    ...compartmentSeries(1, tul1MemNamed, offB),
    // c
    Object.assign(dots(2, 'all c', vps4TotalAll, '#000', 5), { markLine: thresholds('#777', 1.6) }),
    dots(2, 'tmp c', vps4TotalTmp, RED, 5, 3),
    // d
    Object.assign(dots(3, 'ns d', vps4MemOther, '#c9c9c9', 3.5), { markLine: thresholds('#111', 1) }),
    dots(3, 'sig d', vps4MemSig, '#000', 3, 3),
    ...compartmentSeries(3, vps4MemNamed, offD),
    // e
    Object.assign(dots(4, 'other', eOther, '#767676', 6), {
      markLine: Object.assign({ data: [{ xAxis: 0 }, { yAxis: 0 }] }, eLine)
    }),
    Object.assign(dots(5, 'other r', [], '#767676', 6), {
      markLine: Object.assign({ data: [{ yAxis: 0 }] }, eLine)
    }),
    dots(4, 'vps4Δ', eVps4Only, SALMON, 6, 3),
    dots(4, 'tul1Δ', eTul1Only, LBLUE, 6, 3),
    named(4, 'vps4Δ', eVps4Named, offE, SALMON, 6, { color: '#fff', backgroundColor: SALMON, padding: [1, X(3)], lineHeight: 13 }),
    named(4, 'tul1Δ', eTul1Named, offE, LBLUE, 6, { color: '#fff', backgroundColor: LBLUE, padding: [1, X(3)], lineHeight: 13 }),
    named(4, 'overlap', eOverlapNamed, offE, PURPLE, 4.5, { color: '#fff', backgroundColor: PURPLE, padding: [1, X(3)], lineHeight: 13 }),
    named(5, 'overlap', eOverlapFar, offE, PURPLE, 4.5, { color: '#fff', backgroundColor: PURPLE, padding: [1, X(3)], lineHeight: 13 }),
    // f
    { type: 'bar', name: 'tul1Δ (n=21)', xAxisIndex: 6, yAxisIndex: 6, data: fTul1Pct, barWidth: 13, barGap: '0%',
      itemStyle: { color: '#92bef3', borderColor: '#333', borderWidth: 1 }, silent: true,
      label: { show: true, position: 'right', distance: 2, fontSize: FS, color: INK, fontFamily: FONT,
        formatter: p => fTul1Count[p.dataIndex] } },
    { type: 'bar', name: 'vps4Δ (n=72)', xAxisIndex: 6, yAxisIndex: 6, data: fVps4Pct, barWidth: 13, barGap: '0%',
      itemStyle: { color: '#f68282', borderColor: '#333', borderWidth: 1 }, silent: true,
      label: { show: true, position: 'right', distance: 2, fontSize: FS, color: INK, fontFamily: FONT,
        formatter: p => fVps4Count[p.dataIndex] } }
  ],
  graphic: [
    letter('a', 3, 15), letter('b', 370.5, 15), letter('c', 3, 346), letter('d', 374, 346),
    letter('e', 3, 703), letter('f', 374, 703),
    headText('total proteome changes in {i|tul1Δ} cells', 199, 7),
    headText('membrane proteome changes in {i|tul1Δ} cells', 573, 7),
    headText('total proteome changes in {i|vps4Δ} cells', 199, 346),
    headText('membrane proteome changes in {i|vps4Δ} cells', 573, 346),
    headText('-log2 WT(H) / {i|tul1Δ}(L) ratio', 199, 1008),
    headText('cellular component', 627, 723, { fontWeight: 'bold' }),
    ...countLegend(62.3, 3631, 667),
    ...countLegend(400.7, 3593, 672),
    { type: 'rect', shape: { x: X(55), y: 693, width: X(288), height: 290 },
      style: { fill: 'none', stroke: '#333', lineWidth: 1.3 }, z: 1 },
    headText('//', 279, 693, { fontSize: 13, fontWeight: 'bold', fontStyle: 'italic', backgroundColor: '#fff', padding: [0, 1] }),
    headText('//', 279, 983, { fontSize: 13, fontWeight: 'bold', fontStyle: 'italic', backgroundColor: '#fff', padding: [0, 1] })
  ]
};

const chart = echarts.init(document.getElementById('chart'), null, { renderer: 'canvas' });
chart.setOption(option);
</script>
</body>
</html>
